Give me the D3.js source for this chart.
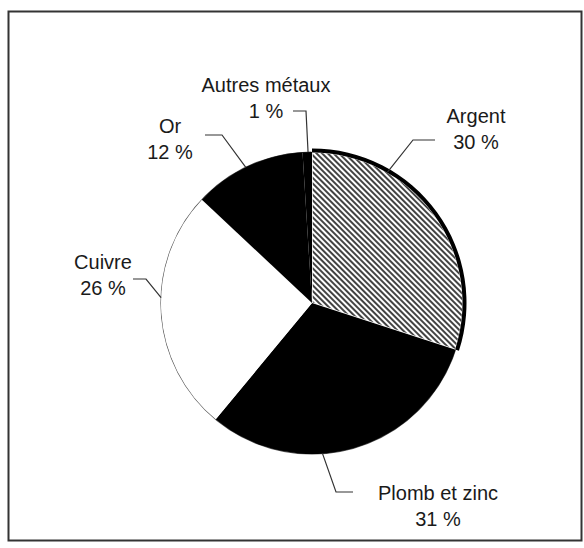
<!DOCTYPE html>
<html>
<head>
<meta charset="utf-8">
<script src="https://cdn.jsdelivr.net/npm/d3@7"></script>
<style>
  body { margin: 0; background: #fff; }
</style>
</head>
<body>
<div id="chart-area"></div>
<script>
// data
const categories = ["Argent", "Plomb et zinc", "Cuivre", "Or", "Autres métaux"];
const shares = [30, 31, 26, 12, 1];
const valueLabels = ["30 %", "31 %", "26 %", "12 %", "1 %"];
const fills = ["url(#hatch)", "#000", "#fff", "#000", "#000"];

const svgWidth = 584;
const svgHeight = 548;
const center = { x: 312, y: 303 };
const radius = 151;

// label placement: text anchor point + leader (angle on the rim in degrees, elbow, end)
const labelLayout = [
  { tx: 476, ty: 123, angle: 30, elbow: [413, 140], end: [435, 140] },
  { tx: 438, ty: 500, angle: 176, elbow: [336, 492], end: [353, 492] },
  { tx: 103, ty: 269, angle: 272, elbow: [146, 279], end: [133, 279] },
  { tx: 170, ty: 133, angle: 334, elbow: [222, 135], end: [205, 135] },
  { tx: 266, ty: 92, angle: 358.5, elbow: [306, 111], end: [293, 111] }
];

const canvas = d3.select("#chart-area")
  .append("svg")
    .attr("width", svgWidth)
    .attr("height", svgHeight);

// hatch pattern for Argent
const hatchStep = 4;
const defs = canvas.append("defs");
defs.append("pattern")
    .attr("id", "hatch")
    .attr("patternUnits", "userSpaceOnUse")
    .attr("width", hatchStep)
    .attr("height", hatchStep)
    .attr("patternTransform", "rotate(-45)")
  .call(p => {
    p.append("rect").attr("width", hatchStep).attr("height", hatchStep).attr("fill", "#fff");
    p.append("line")
      .attr("x1", 1).attr("y1", 0)
      .attr("x2", 1).attr("y2", hatchStep)
      .attr("stroke", "#222")
      .attr("stroke-width", 1.7);
  });

// frame
canvas.append("rect")
  .attr("x", 8.5)
  .attr("y", 11.5)
  .attr("width", 573)
  .attr("height", 529)
  .attr("fill", "none")
  .attr("stroke", "#333")
  .attr("stroke-width", 2);

const chart = canvas.append("g")
  .attr("transform", `translate(${center.x},${center.y})`);

const pie = d3.pie().sort(null).value(d => d);
const arcs = pie(shares);
const arc = d3.arc().innerRadius(0).outerRadius(radius);

// thin outline of the whole disc
chart.append("circle")
  .attr("r", radius)
  .attr("fill", "none")
  .attr("stroke", "#555")
  .attr("stroke-width", 1.2);

chart.selectAll("path.slice")
  .data(arcs)
  .enter()
  .append("path")
    .attr("class", "slice")
    .attr("d", arc)
    .attr("fill", (d, i) => fills[i])
    .attr("stroke", (d, i) => i === 0 ? "#fff" : "none")
    .attr("stroke-width", 1.5);

// heavy rim on the hatched slice
const rim = d3.arc().innerRadius(radius - 0.5).outerRadius(radius + 3.5);
chart.append("path")
  .attr("d", rim(arcs[0]))
  .attr("fill", "#000");

// leaders
const toRad = a => a * Math.PI / 180;
const rimPoint = a => [center.x + radius * Math.sin(toRad(a)), center.y - radius * Math.cos(toRad(a))];

canvas.selectAll("path.leader")
  .data(labelLayout)
  .enter()
  .append("path")
    .attr("class", "leader")
    .attr("d", d => d3.line()([rimPoint(d.angle), d.elbow, d.end]))
    .attr("fill", "none")
    .attr("stroke", "#333")
    .attr("stroke-width", 1.2);

// labels
const labels = canvas.selectAll("text.label")
  .data(categories)
  .enter()
  .append("text")
    .attr("class", "label")
    .attr("x", (d, i) => labelLayout[i].tx)
    .attr("y", (d, i) => labelLayout[i].ty)
    .attr("text-anchor", "middle")
    .attr("font-family", "'Liberation Sans', Arial, sans-serif")
    .attr("font-size", 20)
    .attr("fill", "#1a1a1a");

labels.append("tspan")
  .text(d => d);
labels.append("tspan")
  .attr("x", (d, i) => labelLayout[i].tx)
  .attr("dy", 26)
  .text((d, i) => valueLabels[i]);
</script>
</body>
</html>
